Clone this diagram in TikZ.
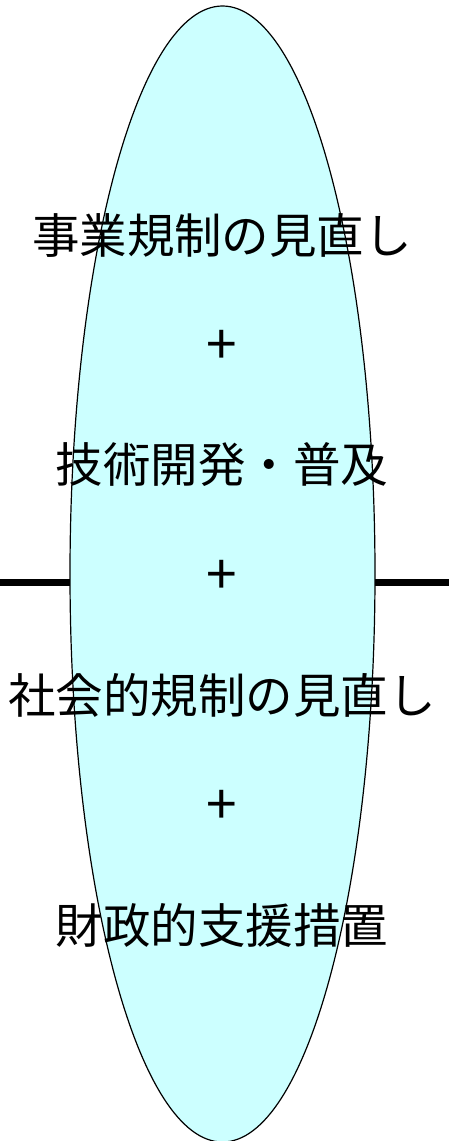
\documentclass[tikz,border=0pt]{standalone}
\usepackage{fontspec}
\usetikzlibrary{shapes.geometric}
\newfontfamily\jp{Noto Sans CJK JP}
\definecolor{lcyan}{RGB}{204,255,255}
\begin{document}
\begin{tikzpicture}[x=1pt,y=-1pt,
  lbl/.style={font=\jp\fontsize{47.5}{52}\selectfont, inner sep=0pt, anchor=center},
  plus/.style={font=\jp\fontsize{55}{60}\selectfont, inner sep=0pt, anchor=center}]
\useasboundingbox (0,0) rectangle (449,1141);
\coordinate (L) at (0,582.5);
\coordinate (R) at (449,582.5);
\draw[line width=6.5pt] (L) -- (R);
\node[draw=black, line width=1.2pt, fill=lcyan, ellipse, inner sep=0pt, minimum width=305pt, minimum height=1136pt] (e) at (222.5,574) {};
\node[lbl] (t1) at (222,235) {事業規制の見直し};
\node[plus] (p1) at (222,347) {+};
\node[lbl] (t2) at (222,465) {技術開発・普及};
\node[plus] (p2) at (222,577) {+};
\node[lbl] (t3) at (222,695) {社会的規制の見直し};
\node[plus] (p3) at (222,807) {+};
\node[lbl] (t4) at (222,925) {財政的支援措置};
\end{tikzpicture}
\end{document}
